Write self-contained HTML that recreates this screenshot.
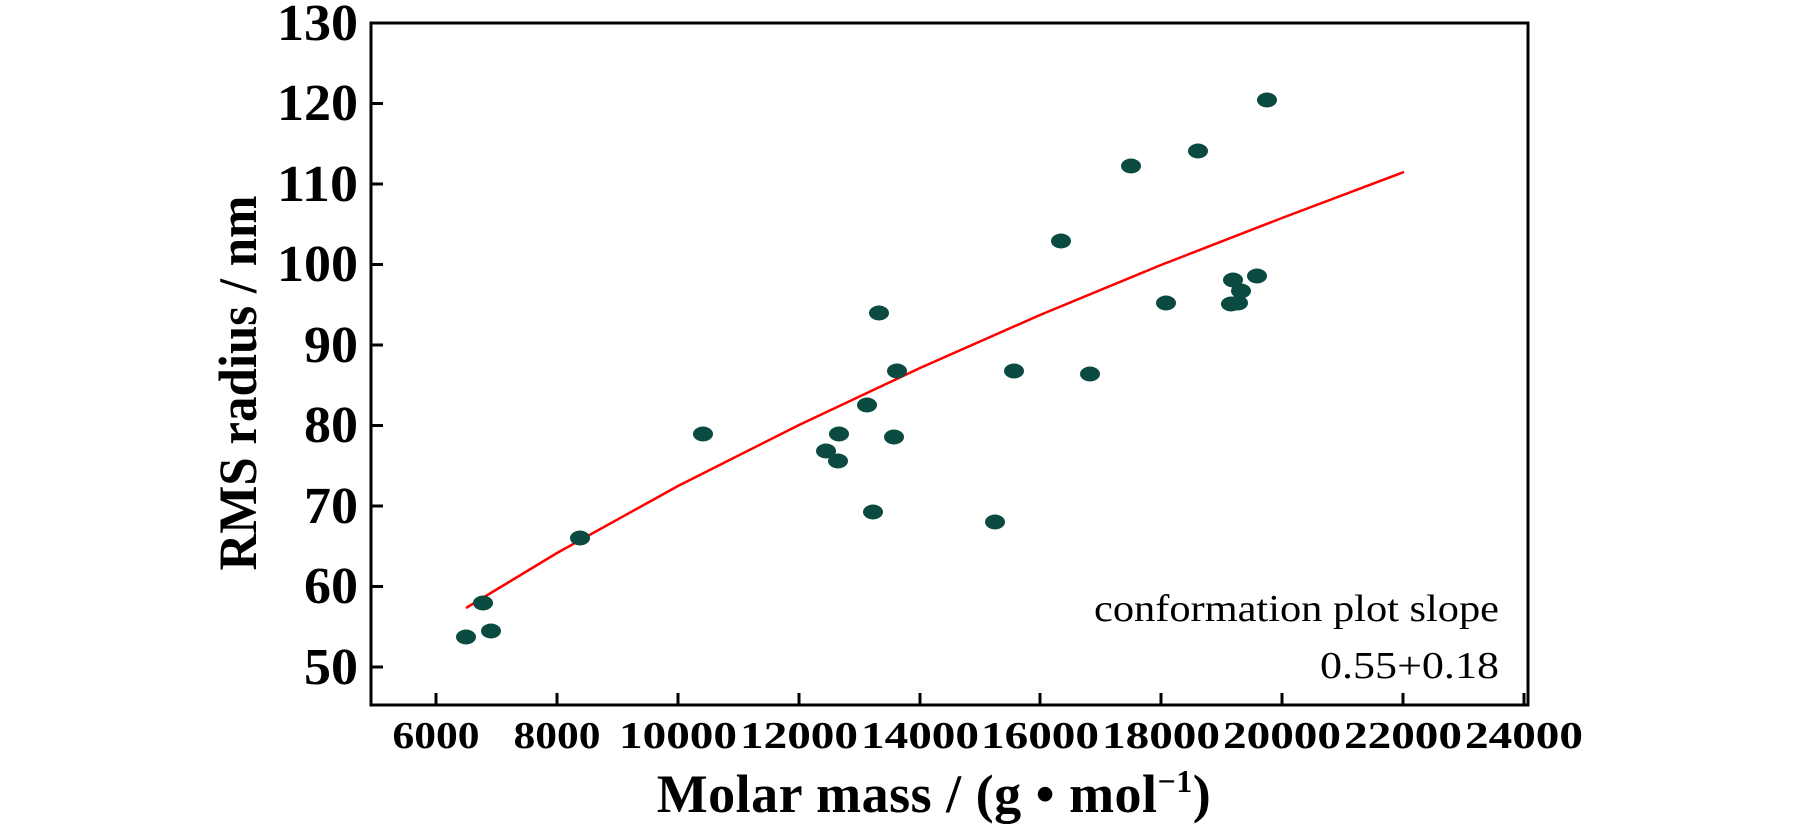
<!DOCTYPE html>
<html><head><style>body{margin:0;background:#fff}</style></head><body>
<svg width="1819" height="827" xmlns="http://www.w3.org/2000/svg" font-family="'Liberation Serif',serif">
<rect x="371" y="23" width="1157" height="682" fill="none" stroke="#000" stroke-width="3"/>
<g stroke="#000" stroke-width="3">
<line x1="371" y1="667" x2="383" y2="667"/><line x1="371" y1="586.5" x2="383" y2="586.5"/><line x1="371" y1="506" x2="383" y2="506"/><line x1="371" y1="425.5" x2="383" y2="425.5"/><line x1="371" y1="345" x2="383" y2="345"/><line x1="371" y1="264.5" x2="383" y2="264.5"/><line x1="371" y1="184" x2="383" y2="184"/><line x1="371" y1="103.5" x2="383" y2="103.5"/>
<line x1="436" y1="705" x2="436" y2="693"/><line x1="557" y1="705" x2="557" y2="693"/><line x1="678" y1="705" x2="678" y2="693"/><line x1="799" y1="705" x2="799" y2="693"/><line x1="920" y1="705" x2="920" y2="693"/><line x1="1040" y1="705" x2="1040" y2="693"/><line x1="1161" y1="705" x2="1161" y2="693"/><line x1="1282" y1="705" x2="1282" y2="693"/><line x1="1403" y1="705" x2="1403" y2="693"/><line x1="1524" y1="705" x2="1524" y2="693"/>
</g>
<g font-size="52" font-weight="bold" text-anchor="end">
<text x="358" y="684" textLength="54" lengthAdjust="spacingAndGlyphs">50</text><text x="358" y="603" textLength="54" lengthAdjust="spacingAndGlyphs">60</text><text x="358" y="523" textLength="54" lengthAdjust="spacingAndGlyphs">70</text><text x="358" y="442" textLength="54" lengthAdjust="spacingAndGlyphs">80</text><text x="358" y="362" textLength="54" lengthAdjust="spacingAndGlyphs">90</text><text x="358" y="281" textLength="81" lengthAdjust="spacingAndGlyphs">100</text><text x="358" y="201" textLength="81" lengthAdjust="spacingAndGlyphs">110</text><text x="358" y="120" textLength="81" lengthAdjust="spacingAndGlyphs">120</text><text x="358" y="40" textLength="81" lengthAdjust="spacingAndGlyphs">130</text>
</g>
<g font-size="38" font-weight="bold" text-anchor="middle">
<text x="436" y="748" textLength="87" lengthAdjust="spacingAndGlyphs">6000</text><text x="557" y="748" textLength="87" lengthAdjust="spacingAndGlyphs">8000</text><text x="678" y="748" textLength="118" lengthAdjust="spacingAndGlyphs">10000</text><text x="799" y="748" textLength="118" lengthAdjust="spacingAndGlyphs">12000</text><text x="920" y="748" textLength="118" lengthAdjust="spacingAndGlyphs">14000</text><text x="1040" y="748" textLength="118" lengthAdjust="spacingAndGlyphs">16000</text><text x="1161" y="748" textLength="118" lengthAdjust="spacingAndGlyphs">18000</text><text x="1282" y="748" textLength="118" lengthAdjust="spacingAndGlyphs">20000</text><text x="1403" y="748" textLength="118" lengthAdjust="spacingAndGlyphs">22000</text><text x="1524" y="748" textLength="118" lengthAdjust="spacingAndGlyphs">24000</text>
</g>
<text x="934" y="812" font-size="54" font-weight="bold" text-anchor="middle" letter-spacing="0.5">Molar mass / (g • mol<tspan font-size="32" dy="-20">−1</tspan><tspan dy="20">)</tspan></text>
<text transform="translate(256,383) rotate(-90)" font-size="54" font-weight="bold" text-anchor="middle" textLength="375" lengthAdjust="spacingAndGlyphs">RMS radius / nm</text>
<text x="1499" y="621" font-size="38" text-anchor="end" textLength="405" lengthAdjust="spacingAndGlyphs">conformation plot slope</text>
<text x="1499" y="678" font-size="38" text-anchor="end" textLength="179" lengthAdjust="spacingAndGlyphs">0.55+0.18</text>
<polyline fill="none" stroke="#f00" stroke-width="2.5" points="466,608 557,553 678,486 799,425 920,368 1040,315 1161,265 1282,218 1404,172"/>
<g fill="#0a4a40">
<ellipse cx="466" cy="637" rx="10" ry="7.5"/><ellipse cx="483" cy="603" rx="10" ry="7.5"/><ellipse cx="491" cy="631" rx="10" ry="7.5"/><ellipse cx="580" cy="538" rx="10" ry="7.5"/><ellipse cx="703" cy="434" rx="10" ry="7.5"/><ellipse cx="826" cy="451" rx="10" ry="7.5"/><ellipse cx="839" cy="434" rx="10" ry="7.5"/><ellipse cx="838" cy="461" rx="10" ry="7.5"/><ellipse cx="867" cy="405" rx="10" ry="7.5"/><ellipse cx="873" cy="512" rx="10" ry="7.5"/><ellipse cx="879" cy="313" rx="10" ry="7.5"/><ellipse cx="894" cy="437" rx="10" ry="7.5"/><ellipse cx="897" cy="371" rx="10" ry="7.5"/><ellipse cx="995" cy="522" rx="10" ry="7.5"/><ellipse cx="1014" cy="371" rx="10" ry="7.5"/><ellipse cx="1061" cy="241" rx="10" ry="7.5"/><ellipse cx="1090" cy="374" rx="10" ry="7.5"/><ellipse cx="1131" cy="166" rx="10" ry="7.5"/><ellipse cx="1166" cy="303" rx="10" ry="7.5"/><ellipse cx="1198" cy="151" rx="10" ry="7.5"/><ellipse cx="1231" cy="304" rx="10" ry="7.5"/><ellipse cx="1233" cy="280" rx="10" ry="7.5"/><ellipse cx="1241" cy="291" rx="10" ry="7.5"/><ellipse cx="1238" cy="303" rx="10" ry="7.5"/><ellipse cx="1257" cy="276" rx="10" ry="7.5"/><ellipse cx="1267" cy="100" rx="10" ry="7.5"/>
</g>
</svg>
</body></html>
